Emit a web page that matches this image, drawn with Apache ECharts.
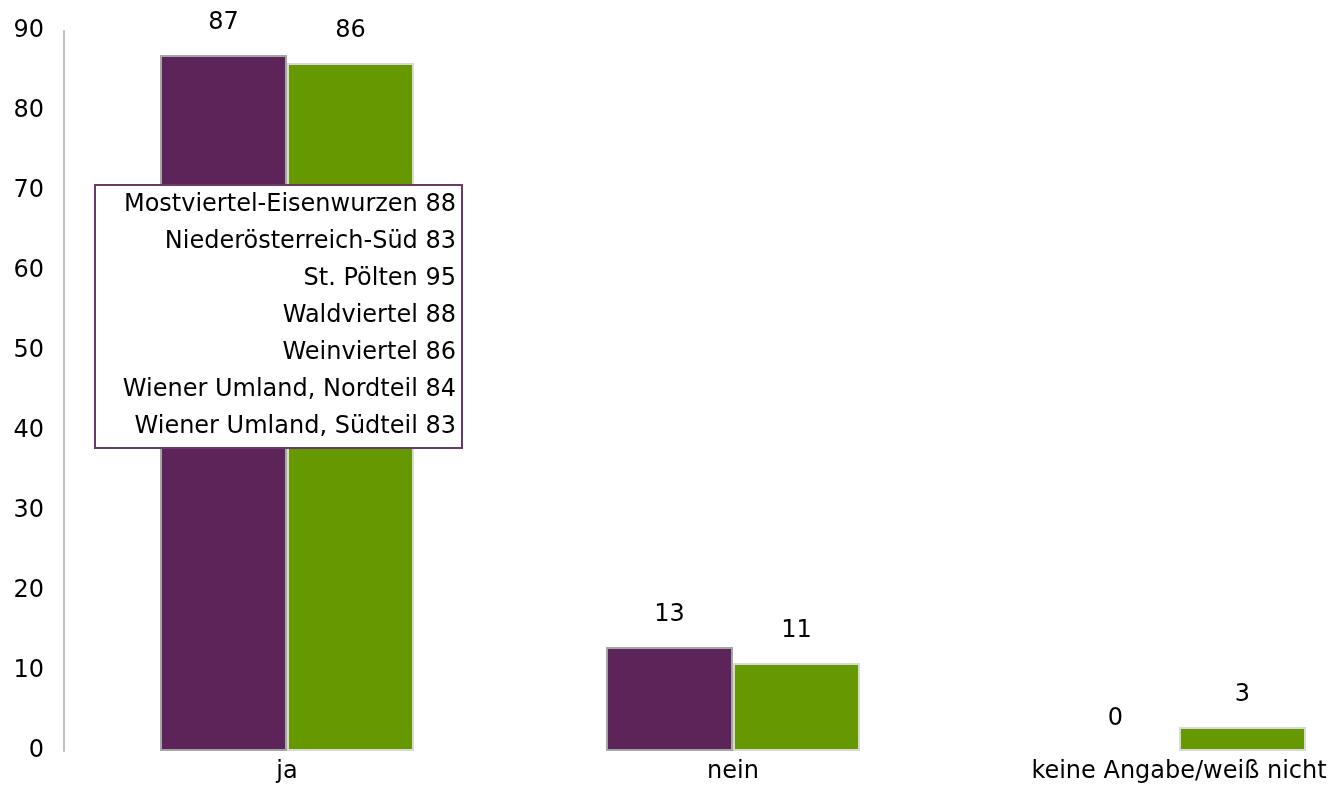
<!DOCTYPE html>
<html>
<head>
<meta charset="utf-8">
<script src="https://cdn.jsdelivr.net/npm/echarts@6/dist/echarts.min.js"></script>
<style>
  html, body { margin: 0; padding: 0; background: #fff; overflow: hidden; width: 1338px; height: 810px; }
  /* the plot runs past the right edge of the page, clipping the last band */
  #chart { width: 1402px; height: 810px; }
</style>
</head>
<body>
<div id="chart"></div>
<script>
// Answer categories and the two series shown side by side
const categories = ['ja', 'nein', 'keine Angabe/weiß nicht'];
const seriesA = [87, 13, 0];
const seriesB = [86, 11, 3];

// Regional breakdown listed in the note box
const regionNames = [
  'Mostviertel-Eisenwurzen',
  'Niederösterreich-Süd',
  'St. Pölten',
  'Waldviertel',
  'Weinviertel',
  'Wiener Umland, Nordteil',
  'Wiener Umland, Südteil'
];
const regionValues = [88, 83, 95, 88, 86, 84, 83];

// Y axis ticks
const yMin = 0, yMax = 90, yStep = 10;

const FONT = 'DejaVu Sans';
const FS = 24;
const PURPLE = '#5c2458';
const GREEN = '#669900';

const noteText = regionNames.map((n, i) => n + ' ' + regionValues[i]).join('\n');

// zero-height bars get no outline
const toItems = (arr) => arr.map(v => (v === 0 ? { value: v, itemStyle: { borderWidth: 0 } } : v));

const chart = echarts.init(document.getElementById('chart'));

const labelCfg = {
  show: true,
  position: 'top',
  distance: 20,
  fontFamily: FONT,
  fontSize: FS,
  color: '#000'
};

chart.setOption({
  backgroundColor: '#fff',
  animation: false,
  textStyle: { fontFamily: FONT },
  grid: { left: 64, right: 0, top: 31, bottom: 59, containLabel: false },
  xAxis: {
    type: 'category',
    data: categories,
    axisLine: { show: false },
    axisTick: { show: false },
    axisLabel: { fontFamily: FONT, fontSize: FS, color: '#000', margin: 9, interval: 0 }
  },
  yAxis: {
    type: 'value',
    min: yMin,
    max: yMax,
    interval: yStep,
    splitLine: { show: false },
    axisTick: { show: false },
    axisLine: { show: true, lineStyle: { color: '#bfbfbf', width: 2 } },
    axisLabel: { fontFamily: FONT, fontSize: FS, color: '#000', margin: 20 }
  },
  series: [
    {
      type: 'bar',
      data: toItems(seriesA),
      barWidth: 127,
      barGap: '0%',
      itemStyle: { color: PURPLE, borderColor: '#a6a6a6', borderWidth: 2 },
      label: labelCfg
    },
    {
      type: 'bar',
      data: toItems(seriesB),
      barWidth: 127,
      itemStyle: { color: GREEN, borderColor: '#d9d9d9', borderWidth: 2 },
      label: labelCfg
    }
  ],
  graphic: [
    {
      type: 'rect',
      left: 94,
      top: 184,
      shape: { width: 367, height: 263 },
      style: { fill: '#fff', stroke: '#6b3a67', lineWidth: 2 },
      z: 100
    },
    {
      type: 'text',
      x: 456,
      y: 186,
      style: {
        text: noteText,
        fill: '#000',
        font: FS + 'px "' + FONT + '"',
        align: 'right',
        verticalAlign: 'top',
        lineHeight: 37
      },
      z: 101
    }
  ]
});
</script>
</body>
</html>
